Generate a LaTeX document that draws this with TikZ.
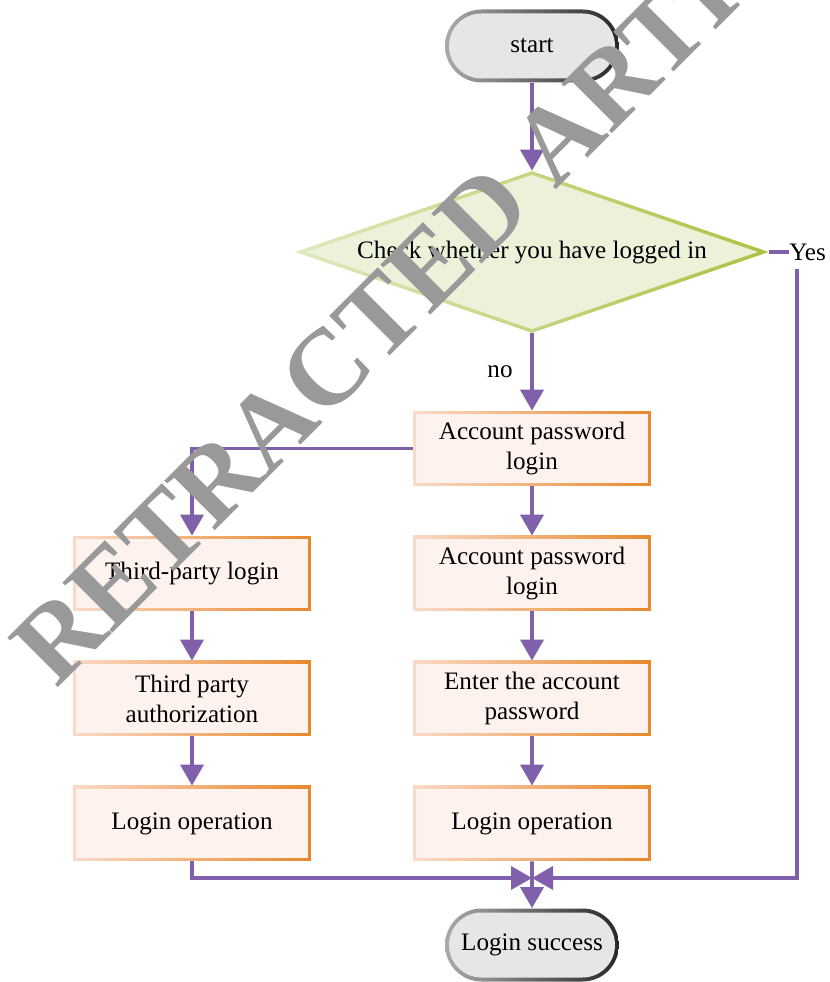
\documentclass[tikz,border=0pt]{standalone}
\usepackage{fontspec}
\setmainfont{Liberation Serif}
\usepackage{tikz}
\usetikzlibrary{arrows.meta, shapes.geometric, shapes.misc, positioning, calc}

\definecolor{flowline}{RGB}{128,96,170}
\definecolor{boxfill}{RGB}{253,242,238}
\definecolor{boxedgel}{RGB}{250,218,200}
\definecolor{boxedger}{RGB}{232,136,44}
\definecolor{termfill}{RGB}{230,230,230}
\definecolor{termedgel}{RGB}{170,170,170}
\definecolor{termedger}{RGB}{40,40,40}
\definecolor{checkfill}{RGB}{236,242,218}
\definecolor{checkedgel}{RGB}{222,234,190}
\definecolor{checkedger}{RGB}{170,194,66}
\definecolor{wmgray}{RGB}{153,153,153}

\begin{document}
\begin{tikzpicture}[x=0.02cm,y=-0.02cm,node distance=2.5cm,
            font=\fontsize{14.3}{17}\selectfont,
            line/.style={draw=flowline,line width=2.1pt},
            arr/.style={line,-{Triangle[width=0.46cm,length=0.42cm]}},
            procbox/.style={rectangle,align=center,inner sep=2pt,
               minimum width=4.76cm,minimum height=1.5cm,
               path picture={
                  \shade[left color=boxedgel,right color=boxedger]
                     (path picture bounding box.south west) rectangle (path picture bounding box.north east);
                  \fill[boxfill] ([shift={(0.065cm,0.065cm)}]path picture bounding box.south west)
                     rectangle ([shift={(-0.065cm,-0.065cm)}]path picture bounding box.north east);}},
            termbox/.style={rounded rectangle,inner sep=2pt,
               minimum width=3.62cm,minimum height=1.46cm,
               path picture={
                  \shade[left color=termedgel,right color=termedger]
                     (path picture bounding box.south west) rectangle (path picture bounding box.north east);
                  \fill[termfill,rounded corners=0.649cm] ([shift={(0.08cm,0.08cm)}]path picture bounding box.south west)
                     rectangle ([shift={(-0.08cm,-0.08cm)}]path picture bounding box.north east);}},
            checkbox/.style={diamond,aspect=2.9,inner sep=0pt,
               minimum width=9.48cm,minimum height=3.24cm,
               path picture={
                  \shade[left color=checkedgel,right color=checkedger]
                     (path picture bounding box.south west) rectangle (path picture bounding box.north east);
                  \fill[checkfill] ([xshift=0.22cm]path picture bounding box.west)
                     -- ([yshift=-0.075cm]path picture bounding box.north)
                     -- ([xshift=-0.22cm]path picture bounding box.east)
                     -- ([yshift=0.075cm]path picture bounding box.south) -- cycle;}},
            wmark/.style={anchor=base west,rotate=45,inner sep=0pt,text=wmgray,
               font=\fontsize{61.5}{62}\selectfont\bfseries}]
   \useasboundingbox (0,0) rectangle (829,982);

   % main column
   \node[termbox] (start) at (532,46) {start};
   \node[checkbox] (check) at (532,252) {Check whether you have logged in};
   \node[anchor=west,inner sep=0pt] (yes) at (789,252) {Yes};
   \node (no) at (500,372) {no};
   \node[procbox] (acc) at (532,448.5) {Account password\\login};
   \node[procbox,below of=acc] (acclogin) {Account password\\login};
   \node[procbox,below of=acclogin] (enter) {Enter the account\\password};
   \node[procbox,below of=enter] (opright) {Login operation};

   % third party column
   \node[procbox] (third) at (192,573.5) {Third-party login};
   \node[procbox,below of=third] (auth) {Third party\\authorization};
   \node[procbox,below of=auth] (opleft) {Login operation};

   \node[termbox] (success) at (532,945) {Login success};
   \coordinate (merge) at (532,878);
   \coordinate (yesdown) at (797,269);

   \draw[arr] (start) -- (check);
   \draw[line] (check.east) -- (yes.west);
   \draw[arr] (check) -- (acc);
   \draw[arr] (acc.west) -| (third.north);
   \draw[arr] (acc) -- (acclogin);
   \draw[arr] (acclogin) -- (enter);
   \draw[arr] (enter) -- (opright);
   \draw[arr] (third) -- (auth);
   \draw[arr] (auth) -- (opleft);
   \draw[arr] (opleft.south) |- (merge);
   \draw[arr] (yesdown) |- (merge);
   \draw[arr] (opright) -- (success);

   \node[wmark] (wm) at (56,690) {RETRACTED ARTICLE};
\end{tikzpicture}
\end{document}
